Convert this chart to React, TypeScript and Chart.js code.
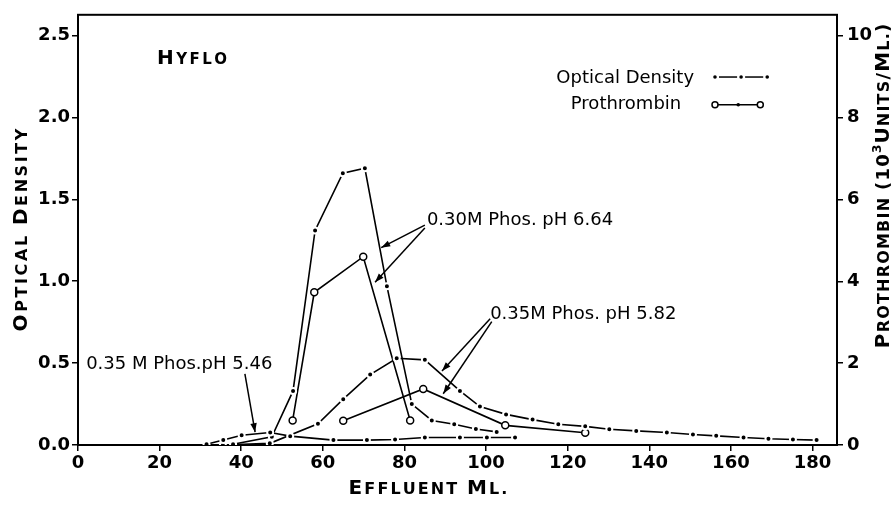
import React, { useEffect, useRef } from "react";
import { Chart, registerables } from "chart.js";
Chart.register(...registerables);

// ---------- data ----------
const X_TICKS = [0, 20, 40, 60, 80, 100, 120, 140, 160, 180];
const OD_TICKS = [0, 0.5, 1.0, 1.5, 2.0, 2.5];
const PRO_TICKS = [0, 2, 4, 6, 8, 10];

// 0.35 M Phos. pH 5.46 — optical density
const OD_546_ML = [31.5, 35.6, 40.1, 47.1, 52.0, 62.6, 70.8, 77.7, 85.0, 93.6, 100.2, 107.1];
const OD_546 = [0.005, 0.03, 0.06, 0.076, 0.054, 0.03, 0.03, 0.034, 0.046, 0.046, 0.046, 0.046];

// 0.30 M Phos. pH 6.64
const OD_664_ML = [38, 47.5, 52.7, 58.1, 64.9, 70.3, 75.7, 81.8, 86.7, 92.2, 97.5, 102.6];
const OD_664 = [0.005, 0.05, 0.33, 1.31, 1.66, 1.69, 0.97, 0.25, 0.15, 0.127, 0.098, 0.08];
const PRO_664_ML = [52.6, 57.9, 69.9, 81.4];
const PRO_664 = [0.6, 3.73, 4.6, 0.6];

// 0.35 M Phos. pH 5.82
const OD_582_ML = [35.5, 47, 58.8, 65.0, 71.6, 78.1, 85.0, 93.6, 98.5, 104.9, 111.4, 117.7, 124.3, 130.2, 136.8, 144.3, 150.7, 156.4, 163.1, 169.2, 175.2, 181.0];
const OD_582 = [0.0, 0.01, 0.13, 0.28, 0.43, 0.53, 0.52, 0.33, 0.235, 0.187, 0.155, 0.127, 0.114, 0.096, 0.086, 0.076, 0.064, 0.056, 0.046, 0.038, 0.034, 0.03];
const PRO_582_ML = [65.0, 84.6, 104.7, 124.3];
const PRO_582 = [0.59, 1.37, 0.48, 0.3];

// ---------- text / annotations ----------
const FONT = '"DejaVu Sans", sans-serif';
const NOTES = [
  { text: "0.35 M Phos.pH 5.46", x: 2.0, y: 0.494 },
  { text: "0.30M Phos. pH 6.64", x: 85.5, y: 1.373 },
  { text: "0.35M Phos. pH 5.82", x: 101.0, y: 0.795 },
];
const ARROWS = [
  [40.9, 0.434, 43.4, 0.078],
  [85.0, 1.343, 74.3, 1.205],
  [85.0, 1.325, 72.8, 0.994],
  [101.0, 0.771, 89.2, 0.452],
  [101.4, 0.753, 89.5, 0.313],
];
const LEGEND_OD = "Optical Density";
const LEGEND_PRO = "Prothrombin";

type Piece = { t: string; size: number; raise?: number };
const B = 20, S = 16;
const HYFLO: Piece[] = [{ t: "H", size: B }, { t: "YFLO", size: 15 }];
const X_TITLE: Piece[] = [{ t: "E", size: B }, { t: "FFLUENT ", size: S }, { t: "M", size: B }, { t: "L.", size: S }];
const Y_TITLE: Piece[] = [{ t: "O", size: B }, { t: "PTICAL ", size: S }, { t: "D", size: B }, { t: "ENSITY", size: S }];
const Y2_TITLE: Piece[] = [
  { t: "P", size: B }, { t: "ROTHROMBIN ", size: S }, { t: "(10", size: 18 }, { t: "3", size: 12, raise: 8 },
  { t: "U", size: B }, { t: "NITS", size: S }, { t: "/", size: 18 }, { t: "M", size: B }, { t: "L.", size: S }, { t: ")", size: 18 },
];

function drawPieces(ctx: CanvasRenderingContext2D, pieces: Piece[], cx: number, cy: number, spacing: number, angle: number) {
  ctx.save();
  ctx.translate(cx, cy);
  ctx.rotate(angle);
  ctx.fillStyle = "#000";
  ctx.textBaseline = "alphabetic";
  ctx.textAlign = "left";
  const chars: { ch: string; size: number; raise: number; w: number }[] = [];
  let maxSize = 0;
  for (const p of pieces) {
    ctx.font = `bold ${p.size}px ${FONT}`;
    maxSize = Math.max(maxSize, p.size);
    for (const ch of p.t) chars.push({ ch, size: p.size, raise: p.raise || 0, w: ctx.measureText(ch).width });
  }
  const total = chars.reduce((a, c) => a + c.w, 0) + spacing * (chars.length - 1);
  let x = -total / 2;
  const base = (maxSize * 0.73) / 2;
  for (const c of chars) {
    ctx.font = `bold ${c.size}px ${FONT}`;
    ctx.fillText(c.ch, x, base - c.raise);
    x += c.w + spacing;
  }
  ctx.restore();
}

function pts(xs: number[], ys: number[]) {
  return xs.map((x, i) => ({ x, y: ys[i] }));
}

const odStyle = {
  borderColor: "#000",
  borderWidth: 1.6,
  pointRadius: 3,
  pointBorderWidth: 2,
  pointBorderColor: "#fff",
  pointBackgroundColor: "#000",
  tension: 0,
  yAxisID: "y",
};
const proStyle = {
  borderColor: "#000",
  borderWidth: 1.6,
  pointRadius: 3.5,
  pointBorderWidth: 1.5,
  pointBorderColor: "#000",
  pointBackgroundColor: "#fff",
  tension: 0,
  yAxisID: "y2",
};

const decor = {
  id: "decor",
  beforeDatasetsDraw(chart: any) {
    const { ctx, chartArea: a } = chart;
    ctx.save();
    ctx.strokeStyle = "#000";
    ctx.lineWidth = 2;
    ctx.strokeRect(a.left, a.top, a.right - a.left, a.bottom - a.top);
    ctx.restore();
  },
  afterDraw(chart: any) {
    const { ctx } = chart;
    const sx = chart.scales.x, sy = chart.scales.y;
    const px = (v: number) => sx.getPixelForValue(v);
    const py = (v: number) => sy.getPixelForValue(v);
    ctx.save();
    ctx.fillStyle = "#000";
    ctx.strokeStyle = "#000";
    // notes
    ctx.font = `18px ${FONT}`;
    ctx.textBaseline = "middle";
    ctx.textAlign = "left";
    for (const n of NOTES) ctx.fillText(n.text, px(n.x), py(n.y));
    // arrows
    ctx.lineWidth = 1.5;
    for (const [x1, y1, x2, y2] of ARROWS) {
      const a1 = px(x1), b1 = py(y1), a2 = px(x2), b2 = py(y2);
      ctx.beginPath();
      ctx.moveTo(a1, b1);
      ctx.lineTo(a2, b2);
      ctx.stroke();
      const ang = Math.atan2(b2 - b1, a2 - a1);
      const L = 9, W = 3.2;
      ctx.beginPath();
      ctx.moveTo(a2, b2);
      ctx.lineTo(a2 - L * Math.cos(ang) + W * Math.sin(ang), b2 - L * Math.sin(ang) - W * Math.cos(ang));
      ctx.lineTo(a2 - L * Math.cos(ang) - W * Math.sin(ang), b2 - L * Math.sin(ang) + W * Math.cos(ang));
      ctx.closePath();
      ctx.fill();
    }
    // legend
    ctx.font = `18px ${FONT}`;
    ctx.textAlign = "center";
    ctx.fillText(LEGEND_OD, px(134.1), py(2.241));
    ctx.fillText(LEGEND_PRO, px(134.3), py(2.078));
    const ly1 = py(2.247);
    const xs1 = [px(156.1), px(162.5), px(168.9)];
    ctx.lineWidth = 1.5;
    for (let i = 0; i < xs1.length - 1; i++) {
      ctx.beginPath();
      ctx.moveTo(xs1[i] + 4, ly1);
      ctx.lineTo(xs1[i + 1] - 4, ly1);
      ctx.stroke();
    }
    for (const x of xs1) {
      ctx.beginPath();
      ctx.arc(x, ly1, 1.8, 0, Math.PI * 2);
      ctx.fill();
    }
    const ly2 = py(2.078);
    const xs2 = [px(156.1), px(161.8), px(167.2)];
    ctx.beginPath();
    ctx.moveTo(xs2[0], ly2);
    ctx.lineTo(xs2[2], ly2);
    ctx.stroke();
    ctx.beginPath();
    ctx.arc(xs2[1], ly2, 1.8, 0, Math.PI * 2);
    ctx.fill();
    for (const x of [xs2[0], xs2[2]]) {
      ctx.beginPath();
      ctx.arc(x, ly2, 3, 0, Math.PI * 2);
      ctx.fillStyle = "#fff";
      ctx.fill();
      ctx.stroke();
      ctx.fillStyle = "#000";
    }
    ctx.restore();
    // titles
    drawPieces(ctx, HYFLO, 192, 57, 2.5, 0);
    drawPieces(ctx, X_TITLE, 428, 487, 2.1, 0);
    drawPieces(ctx, Y_TITLE, 20, 230, 2.6, -Math.PI / 2);
    drawPieces(ctx, Y2_TITLE, 882, 186, 1.2, -Math.PI / 2);
  },
};

const tickFont = { family: FONT, size: 18, weight: "bold" };
const gridCfg = { display: true, drawOnChartArea: false, drawTicks: true, tickLength: 6, color: "#000", lineWidth: 1.5 };
const borderCfg = { display: true, color: "#000", width: 2 };

export default function App() {
  const ref = useRef<HTMLCanvasElement>(null);
  useEffect(() => {
    const chart = new Chart(ref.current as HTMLCanvasElement, {
      type: "line",
      data: {
        datasets: [
          { ...odStyle, data: pts(OD_546_ML, OD_546) },
          { ...odStyle, data: pts(OD_664_ML, OD_664) },
          { ...odStyle, data: pts(OD_582_ML, OD_582) },
          { ...proStyle, data: pts(PRO_664_ML, PRO_664) },
          { ...proStyle, data: pts(PRO_582_ML, PRO_582) },
        ] as any,
      },
      options: {
        animation: false,
        responsive: false,
        layout: { padding: { top: 9, left: 0, right: 0, bottom: 0 } },
        plugins: { legend: { display: false }, title: { display: false }, tooltip: { enabled: false } },
        scales: {
          x: {
            type: "linear",
            min: 0,
            max: 186,
            position: "bottom",
            grid: gridCfg,
            border: borderCfg,
            ticks: { color: "#000", font: tickFont, padding: 2, autoSkip: false, maxRotation: 0, callback: (v: any) => String(v) },
            afterBuildTicks: (s: any) => { s.ticks = X_TICKS.map((v) => ({ value: v })); },
            afterFit: (s: any) => { s.height = 63; },
          },
          y: {
            type: "linear",
            min: 0,
            max: 2.627,
            position: "left",
            grid: gridCfg,
            border: borderCfg,
            ticks: { color: "#000", font: tickFont, padding: 2, callback: (v: any) => Number(v).toFixed(1) },
            afterBuildTicks: (s: any) => { s.ticks = OD_TICKS.map((v) => ({ value: v })); },
            afterFit: (s: any) => { s.width = 78; },
          },
          y2: {
            type: "linear",
            min: 0,
            max: 10.51,
            position: "right",
            grid: gridCfg,
            border: borderCfg,
            ticks: { color: "#000", font: tickFont, padding: 4, callback: (v: any) => String(v) },
            afterBuildTicks: (s: any) => { s.ticks = PRO_TICKS.map((v) => ({ value: v })); },
            afterFit: (s: any) => { s.width = 56; },
          },
        },
      } as any,
      plugins: [decor],
    });
    return () => chart.destroy();
  }, []);
  return (
    <div style={{ position: "fixed", left: 0, top: 0, width: 893, height: 508, background: "#fff" }}>
      <canvas ref={ref} width={893} height={508} style={{ width: 893, height: 508, display: "block" }} />
    </div>
  );
}
